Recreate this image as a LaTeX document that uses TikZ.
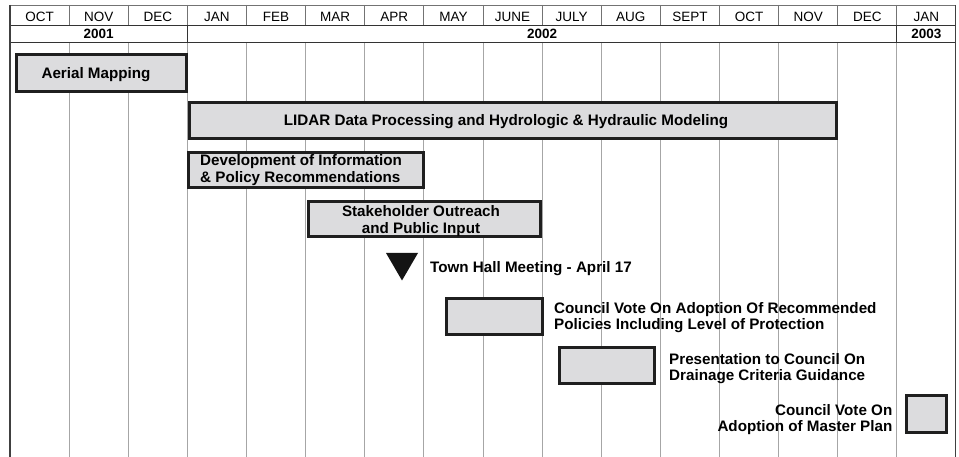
\documentclass[tikz,border=0pt]{standalone}
\usepackage{fontspec}
\setmainfont{Liberation Sans}
\definecolor{boxgray}{RGB}{220,220,222}
\begin{document}
\begin{tikzpicture}[x=1pt,y=-1pt,
  bar/.style={draw=black!88, line width=2.8pt, fill=boxgray},
  lbl/.style={font=\fontsize{15.2}{16.2}\selectfont\bfseries, inner sep=0pt},
  mon/.style={font=\fontsize{13.5}{14}\selectfont, inner sep=0pt},
  yr/.style={font=\fontsize{13.5}{14}\selectfont\bfseries, inner sep=0pt},
  gridline/.style={draw=black!35, line width=0.9pt},
  headline/.style={draw=black!80, line width=0.9pt},
  lightline/.style={draw=black!55, line width=0.8pt},
  border/.style={draw=black!75, line width=1.4pt}]
\useasboundingbox (0,0) rectangle (959,457);
\def\cw{59.125}
% body grid
\foreach \i in {1,...,15} \draw[gridline] ({10+\i*\cw},42) -- ({10+\i*\cw},457);
% header
\draw[lightline] (10,5) -- (956,5);
\foreach \i in {1,...,15} \draw[lightline] ({10+\i*\cw},5) -- ({10+\i*\cw},25);
\draw[headline] (10,25) -- (956,25);
\draw[headline] (10,42) -- (956,42);
\draw[headline] ({10+3*\cw},25) -- ({10+3*\cw},42);
\draw[headline] ({10+15*\cw},25) -- ({10+15*\cw},42);
\draw[border] (10,5) -- (10,457);
\draw[border] (955.5,5) -- (955.5,457);
% months
\foreach [count=\i from 0] \m in {OCT,NOV,DEC,JAN,FEB,MAR,APR,MAY,JUNE,JULY,AUG,SEPT,OCT,NOV,DEC,JAN}
  \node[mon] (m\i) at ({10+(\i+0.5)*\cw},16.5) {\m};
% years
\node[yr] (y2001) at ({10+1.5*\cw},34) {2001};
\node[yr] (y2002) at ({10+9*\cw},34) {2002};
\node[yr] (y2003) at ({10+15.5*\cw},34) {2003};
% bars
\draw[bar] (16.4,54.4) rectangle (186.6,91.6);
\node[lbl] (aerial) at (96,75) {Aerial Mapping};
\draw[bar] (189.4,102.4) rectangle (836.6,138.6);
\node[lbl] (lidar) at (506,122) {LIDAR Data Processing and Hydrologic \& Hydraulic Modeling};
\draw[bar] (188.4,152.4) rectangle (423.6,187.6);
\node[lbl, anchor=west, align=left] (devel) at (200,170) {Development of Information\\\& Policy Recommendations};
\draw[bar] (308.4,201.4) rectangle (540.6,236.6);
\node[lbl, align=center] (stake) at (421,221) {Stakeholder Outreach\\and Public Input};
\fill[black!92] (386,253) -- (418,253) -- (402,280.5) -- cycle;
\node[lbl, anchor=west] (town) at (430,268.5) {Town Hall Meeting - April 17};
\draw[bar] (446.4,298.4) rectangle (542.6,334.6);
\node[lbl, anchor=west, align=left] (vote1) at (554,318) {Council Vote On Adoption Of Recommended\\Policies Including Level of Protection};
\draw[bar] (559.4,347.4) rectangle (654.6,383.6);
\node[lbl, anchor=west, align=left] (present) at (669,368.5) {Presentation to Council On\\Drainage Criteria Guidance};
\draw[bar] (906.4,395.4) rectangle (946.6,432.6);
\node[lbl, anchor=east, align=right] (vote2) at (892.5,419.5) {Council Vote On\\Adoption of Master Plan};
\end{tikzpicture}
\end{document}
